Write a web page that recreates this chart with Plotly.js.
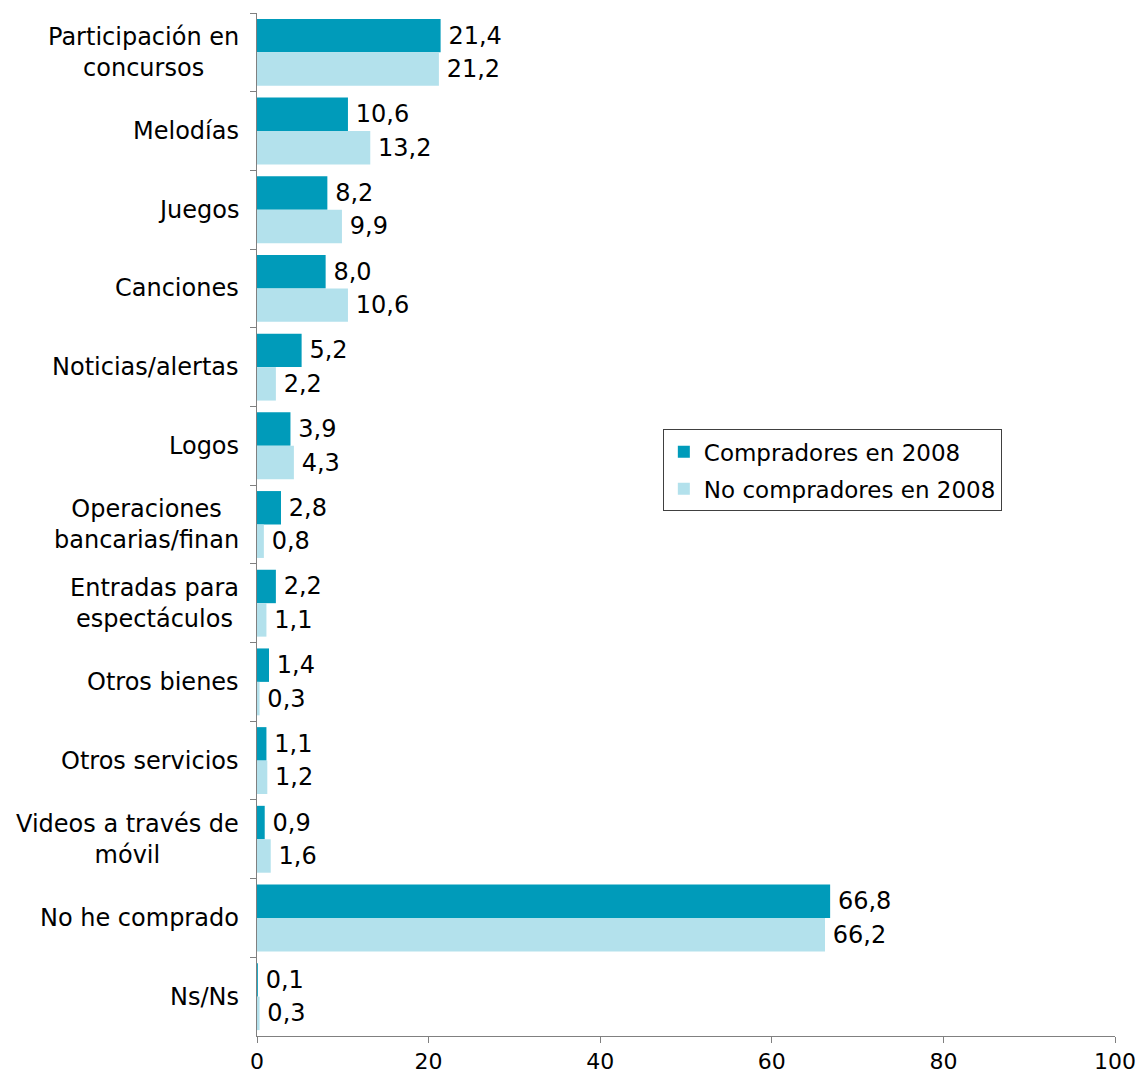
<!DOCTYPE html>
<html>
<head>
<meta charset="utf-8">
<script src="https://cdn.plot.ly/plotly-3.0.1.min.js"></script>
<style>html,body{margin:0;padding:0;background:#fff;}</style>
</head>
<body>
<div id="chart" style="width:1144px;height:1078px;"></div>
<script>
const categories = [
  "Participación en<br>concursos",
  "Melodías",
  "Juegos",
  "Canciones",
  "Noticias/alertas",
  "Logos",
  "Operaciones<br>bancarias/finan",
  "Entradas para<br>espectáculos",
  "Otros bienes",
  "Otros servicios",
  "Videos a través de<br>móvil",
  "No he comprado",
  "Ns/Ns"
];
const compradores2008 = [21.4, 10.6, 8.2, 8.0, 5.2, 3.9, 2.8, 2.2, 1.4, 1.1, 0.9, 66.8, 0.1];
const noCompradores2008 = [21.2, 13.2, 9.9, 10.6, 2.2, 4.3, 0.8, 1.1, 0.3, 1.2, 1.6, 66.2, 0.3];
const seriesNames = ["Compradores en 2008", "No compradores en 2008"];
const xTicks = [0, 20, 40, 60, 80, 100];

const FONT = "DejaVu Sans, Verdana, sans-serif";
const FS = 24;
const ids = categories.map((c, i) => "c" + i);

const traces = [
  {type: "bar", orientation: "h", name: seriesNames[0], legendgroup: "a", y: ids, x: compradores2008,
   marker: {color: "#009bba"}, texttemplate: "\u2009%{x:.1f}",
   textposition: "outside", cliponaxis: false, textfont: {size: FS, color: "#000"}},
  {type: "bar", orientation: "h", name: seriesNames[1], legendgroup: "b", y: ids, x: noCompradores2008,
   marker: {color: "#b3e1ec"}, texttemplate: "\u2009%{x:.1f}",
   textposition: "outside", cliponaxis: false, textfont: {size: FS, color: "#000"}}
];

const annotations = categories.map((c, i) => ({
  xref: "paper", yref: "y", x: 0, y: ids[i], xanchor: "right", xshift: -16,
  align: "center", text: c, showarrow: false, font: {size: FS, color: "#000", family: FONT}
}));

const layout = {
  width: 1144, height: 1078,
  margin: {l: 257, r: 29, t: 13, b: 42},
  paper_bgcolor: "#fff", plot_bgcolor: "#fff",
  font: {family: FONT, size: FS, color: "#000"},
  separators: ",.",
  barmode: "group", bargap: 0.15, bargroupgap: 0,
  showlegend: true,
  legend: {x: 0.473, y: 0.593, xanchor: "left", yanchor: "top",
    bordercolor: "#404040", borderwidth: 1, bgcolor: "#fff", itemwidth: 30,
    font: {size: 23, family: FONT}, traceorder: "grouped", tracegroupgap: 4},
  xaxis: {range: [0, 100], tickvals: xTicks, ticks: "outside", ticklen: 6, tickcolor: "#808080",
    showline: true, linecolor: "#808080", linewidth: 1, showgrid: false, zeroline: false,
    tickfont: {size: 22}, fixedrange: true},
  yaxis: {type: "category", autorange: "reversed", showticklabels: false,
    ticks: "outside", ticklen: 6, tickcolor: "#808080", tickson: "boundaries",
    showline: true, linecolor: "#808080", linewidth: 1, showgrid: false, zeroline: false},
  annotations: annotations
};

Plotly.newPlot("chart", traces, layout, {displayModeBar: false, staticPlot: true});
</script>
</body>
</html>
